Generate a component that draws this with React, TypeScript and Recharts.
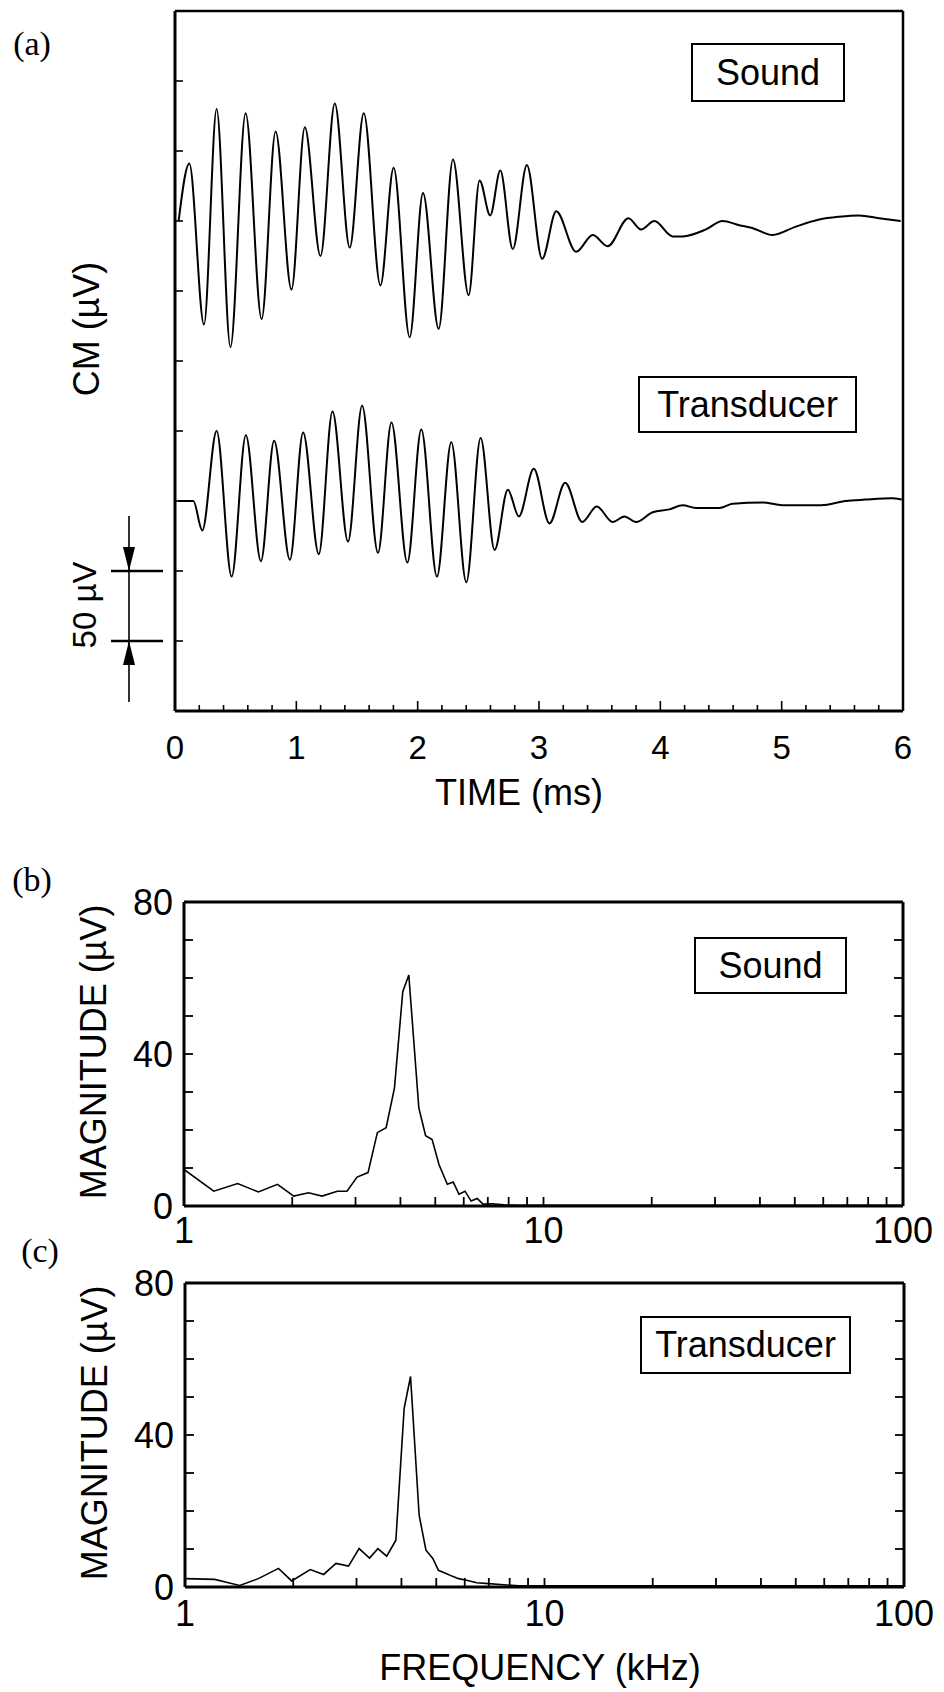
import React from "react";
import { LineChart, Line, XAxis, YAxis } from "recharts";

// ─── Data ─────────────────────────────────────────────────────────────

// (a) cochlear microphonic, time in ms, trace value in µV (offset per trace)
const soundTime = [
  0.03, 0.118, 0.239, 0.343, 0.457, 0.582, 0.714, 0.829, 0.96, 1.07, 1.199, 1.317,
  1.44, 1.556, 1.693, 1.802, 1.934, 2.044, 2.173, 2.291, 2.42, 2.51, 2.598, 2.681,
  2.784, 2.9, 3.026, 3.142, 3.306, 3.443, 3.566, 3.737, 3.841, 3.951, 4.101, 4.184,
  4.376, 4.513, 4.65, 4.757, 4.924, 5.117, 5.309, 5.473, 5.638, 5.802, 5.981,
];
const soundCm = [
  350, 391, 276, 430, 260, 427, 280, 414, 301, 417, 325, 434,
  331, 427, 304, 388, 267, 370, 273, 394, 297, 379, 354, 386,
  330, 390, 323, 357, 328, 340, 332, 352, 344, 350, 339, 339,
  344, 350, 347, 345, 340, 346, 351, 353, 354, 352, 350,
];

const transducerTime = [
  0.027, 0.151, 0.225, 0.343, 0.467, 0.584, 0.708, 0.817, 0.947, 1.056, 1.185, 1.298,
  1.426, 1.542, 1.673, 1.784, 1.915, 2.03, 2.159, 2.277, 2.401, 2.519, 2.634, 2.743,
  2.834, 2.957, 3.086, 3.216, 3.356, 3.476, 3.607, 3.704, 3.8, 3.937, 4.074, 4.184,
  4.294, 4.486, 4.595, 4.845, 5.004, 5.325, 5.527, 5.687, 5.908, 5.99,
];
const transducerCm = [
  150, 150, 129, 200, 96, 197, 107, 193, 108, 199, 112, 214,
  121, 218, 113, 206, 106, 201, 96, 192, 92, 195, 115, 158,
  139, 173, 134, 163, 135, 146, 135, 139, 135, 142, 144, 147,
  145, 145, 148, 149, 147, 147, 150, 151, 152, 151,
];

// (b) spectrum of the sound response, frequency in kHz, magnitude in µV
const soundFreq = [
  1.0, 1.21, 1.41, 1.61, 1.82, 2.02, 2.22, 2.42, 2.67, 2.84, 3.03, 3.25, 3.45, 3.65,
  3.85, 4.06, 4.22, 4.5, 4.7, 4.9, 5.12, 5.4, 5.61, 5.82, 6.05, 6.29, 6.54, 6.79,
  7.19, 7.77, 8.5, 10, 20, 50, 100,
];
const soundMag = [
  9.6, 3.9, 5.9, 3.7, 5.7, 2.6, 3.5, 2.6, 3.9, 3.9, 7.6, 8.8, 19.3, 20.6,
  31.1, 56.4, 60.8, 25.8, 18.5, 17.5, 10.9, 5.7, 6.3, 3.1, 3.9, 1.3, 2.0, 0.5,
  0.6, 0.3, 0.2, 0.2, 0.2, 0.2, 0.2,
];

// (c) spectrum of the transducer response
const transducerFreq = [
  1.0, 1.21, 1.32, 1.42, 1.6, 1.82, 1.98, 2.23, 2.43, 2.63, 2.85, 3.05, 3.26, 3.44,
  3.64, 3.86, 4.07, 4.24, 4.48, 4.68, 4.89, 5.07, 5.34, 5.55, 5.77, 6.07, 6.48, 6.99,
  7.7, 8.5, 10, 20, 50, 100,
];
const transducerMag = [
  2.2, 2.0, 1.1, 0.4, 2.2, 4.9, 1.6, 4.6, 3.3, 6.2, 5.5, 10.1, 7.6, 10.1,
  8.1, 12.3, 47.0, 55.4, 18.9, 9.7, 7.5, 4.4, 3.5, 2.8, 2.2, 1.8, 1.1, 0.9,
  0.6, 0.3, 0.3, 0.3, 0.3, 0.3,
];

// ─── Axis ticks ───────────────────────────────────────────────────────
const timeTicks = [
  0, 0.2, 0.4, 0.6, 0.8, 1, 1.2, 1.4, 1.6, 1.8, 2, 2.2, 2.4, 2.6, 2.8, 3,
  3.2, 3.4, 3.6, 3.8, 4, 4.2, 4.4, 4.6, 4.8, 5, 5.2, 5.4, 5.6, 5.8, 6,
];
const cmTicks = [0, 50, 100, 150, 200, 250, 300, 350, 400, 450, 500];
const freqTicks = [1, 2, 3, 4, 5, 6, 7, 8, 9, 10, 20, 30, 40, 50, 60, 70, 80, 90, 100];
const magTicks = [0, 10, 20, 30, 40, 50, 60, 70, 80];
const freqLabels = [1, 10, 100];
const magLabels = [0, 40, 80];

const soundData = soundTime.map((t, i) => ({ t, v: soundCm[i] }));
const transducerData = transducerTime.map((t, i) => ({ t, v: transducerCm[i] }));
const soundSpec = soundFreq.map((f, i) => ({ f, m: soundMag[i] }));
const transducerSpec = transducerFreq.map((f, i) => ({ f, m: transducerMag[i] }));

// ─── Styling ──────────────────────────────────────────────────────────
const SANS = "'Liberation Sans', Arial, Helvetica, sans-serif";
const SERIF = "'Liberation Serif', 'Times New Roman', serif";
const INK = "#000";

// panel (a) plot box
const A = { top: 11, bottom: 711, left: 175, right: 903, max: 500 };
const aY = (v: number) => A.top + ((A.max - v) / A.max) * (A.bottom - A.top);

// ─── Tick renderers ───────────────────────────────────────────────────
function TimeTick({ x, y, payload }: any) {
  const v = payload.value;
  const major = Math.abs(v - Math.round(v)) < 1e-6;
  const edge = v === 0 || v === 6;
  return (
    <g>
      {!edge && <line x1={x} y1={y} x2={x} y2={y - (major ? 10 : 6)} stroke={INK} strokeWidth={1.6} />}
      {major && (
        <text x={x} y={y + 36} textAnchor="middle" dominantBaseline="central"
          fontFamily={SANS} fontSize={33} fill={INK}>
          {Math.round(v)}
        </text>
      )}
    </g>
  );
}

function CmTick({ x, y, payload }: any) {
  const v = payload.value;
  if (v === 0 || v === A.max) return <g />;
  return <line x1={x} y1={y} x2={x + 8} y2={y} stroke={INK} strokeWidth={1.6} />;
}

function NoTick() {
  return <g />;
}

function makeFreqTick(labelGap: number) {
  return function FreqTick({ x, y, payload }: any) {
    const v = payload.value;
    const show = freqLabels.includes(v);
    return (
      <g>
        {v !== 1 && v !== 100 && (
          <line x1={x} y1={y} x2={x} y2={y - 9} stroke={INK} strokeWidth={1.8} />
        )}
        {show && (
          <text x={x} y={y + labelGap} textAnchor="middle" dominantBaseline="central"
            fontFamily={SANS} fontSize={36} fill={INK}>
            {v}
          </text>
        )}
      </g>
    );
  };
}

function MagTickLeft({ x, y, payload }: any) {
  const v = payload.value;
  return (
    <g>
      {v !== 0 && v !== 80 && <line x1={x} y1={y} x2={x + 9} y2={y} stroke={INK} strokeWidth={1.8} />}
      {magLabels.includes(v) && (
        <text x={x - 11} y={y} textAnchor="end" dominantBaseline="central"
          fontFamily={SANS} fontSize={36} fill={INK}>
          {v}
        </text>
      )}
    </g>
  );
}

function MagTickRight({ x, y, payload }: any) {
  const v = payload.value;
  if (v === 0 || v === 80) return <g />;
  return <line x1={x} y1={y} x2={x - 9} y2={y} stroke={INK} strokeWidth={1.8} />;
}

// ─── Panels ───────────────────────────────────────────────────────────

function TimePanel() {
  const height = 830;
  return (
    <div style={{ position: "absolute", left: 0, top: 0 }}>
      <LineChart width={944} height={height}
        margin={{ top: A.top - 1, bottom: height - A.bottom - 1, left: A.left - 1, right: 944 - A.right - 1 }}>
        <XAxis dataKey="t" type="number" domain={[0, 6]} ticks={timeTicks} interval={0}
          height={1} tickSize={0} tickMargin={0} tickLine={false} tick={<TimeTick />}
          axisLine={{ stroke: INK, strokeWidth: 3 }} allowDataOverflow />
        <XAxis xAxisId="top" orientation="top" dataKey="t" type="number" domain={[0, 6]} ticks={timeTicks}
          interval={0} height={1} tickSize={0} tickMargin={0} tickLine={false} tick={<NoTick />}
          axisLine={{ stroke: INK, strokeWidth: 2.5 }} allowDataOverflow />
        <YAxis type="number" domain={[0, A.max]} ticks={cmTicks} interval={0} width={1}
          tickSize={0} tickMargin={0} tickLine={false} tick={<CmTick />}
          axisLine={{ stroke: INK, strokeWidth: 3 }} allowDataOverflow />
        <YAxis yAxisId="right" orientation="right" type="number" domain={[0, A.max]} ticks={cmTicks}
          interval={0} width={1} tickSize={0} tickMargin={0} tickLine={false} tick={<NoTick />}
          axisLine={{ stroke: INK, strokeWidth: 2.5 }} allowDataOverflow />
        <Line data={soundData} dataKey="v" type="monotone" stroke={INK} strokeWidth={2}
          dot={false} activeDot={false} isAnimationActive={false} />
        <Line data={transducerData} dataKey="v" type="monotone" stroke={INK} strokeWidth={2}
          dot={false} activeDot={false} isAnimationActive={false} />
      </LineChart>
    </div>
  );
}

function SpectrumPanel({ data, top, height, plotTop, plotBottom, left, right, labelGap }: {
  data: { f: number; m: number }[]; top: number; height: number; plotTop: number;
  plotBottom: number; left: number; right: number; labelGap: number;
}) {
  const FreqTick = makeFreqTick(labelGap);
  return (
    <div style={{ position: "absolute", left: 0, top }}>
      <LineChart width={944} height={height}
        margin={{ top: plotTop - top - 1, bottom: top + height - plotBottom - 1, left: left - 1, right: 944 - right - 1 }}>
        <XAxis dataKey="f" type="number" scale="log" domain={[1, 100]} ticks={freqTicks}
          interval={0} height={1} tickSize={0} tickMargin={0} tickLine={false}
          tick={<FreqTick />} axisLine={{ stroke: INK, strokeWidth: 3 }} allowDataOverflow />
        <XAxis xAxisId="top" orientation="top" dataKey="f" type="number" scale="log" domain={[1, 100]}
          ticks={freqTicks} interval={0} height={1} tickSize={0} tickMargin={0} tickLine={false}
          tick={<NoTick />} axisLine={{ stroke: INK, strokeWidth: 3 }} allowDataOverflow />
        <YAxis type="number" domain={[0, 80]} ticks={magTicks} interval={0} width={1}
          tickSize={0} tickMargin={0} tickLine={false} tick={<MagTickLeft />}
          axisLine={{ stroke: INK, strokeWidth: 3 }} allowDataOverflow />
        <YAxis yAxisId="right" orientation="right" type="number" domain={[0, 80]}
          ticks={magTicks} interval={0} width={1} tickSize={0} tickMargin={0} tickLine={false}
          tick={<MagTickRight />} axisLine={{ stroke: INK, strokeWidth: 3 }} allowDataOverflow />
        <Line data={data} dataKey="m" type="linear" stroke={INK} strokeWidth={1.6}
          dot={false} activeDot={false} isAnimationActive={false} />
      </LineChart>
    </div>
  );
}

function TagBox({ text, left, top, width, height }: {
  text: string; left: number; top: number; width: number; height: number;
}) {
  return (
    <div style={{
      position: "absolute", left, top, width, height, boxSizing: "border-box",
      border: "2px solid #000", display: "flex", alignItems: "center", justifyContent: "center",
      fontFamily: SANS, fontSize: 36, color: INK, background: "#fff",
    }}>
      {text}
    </div>
  );
}

function Overlay() {
  const y100 = aY(100);
  const y50 = aY(50);
  const barX = 129;
  const vText = (x: number, y: number, s: string, size: number) => (
    <text x={x} y={y} transform={`rotate(-90 ${x} ${y})`} textAnchor="middle"
      dominantBaseline="central" fontFamily={SANS} fontSize={size} fill={INK}>{s}</text>
  );
  return (
    <svg width={944} height={1692} style={{ position: "absolute", left: 0, top: 0, pointerEvents: "none" }}>
      <text x={32} y={43} textAnchor="middle" dominantBaseline="central" fontFamily={SERIF} fontSize={34}>(a)</text>
      <text x={32} y={879} textAnchor="middle" dominantBaseline="central" fontFamily={SERIF} fontSize={34}>(b)</text>
      <text x={40} y={1250} textAnchor="middle" dominantBaseline="central" fontFamily={SERIF} fontSize={34}>(c)</text>

      <text x={519} y={792} textAnchor="middle" dominantBaseline="central" fontFamily={SANS} fontSize={36}>TIME (ms)</text>
      <text x={540} y={1667} textAnchor="middle" dominantBaseline="central" fontFamily={SANS} fontSize={36}>FREQUENCY (kHz)</text>
      {vText(86, 329, "CM (\u00b5V)", 36)}
      {vText(93, 1052, "MAGNITUDE (\u00b5V)", 36)}
      {vText(94, 1433, "MAGNITUDE (\u00b5V)", 36)}
      {vText(84, 605, "50 \u00b5V", 33)}

      {/* 50 µV scale bar */}
      <line x1={111} y1={y100} x2={163} y2={y100} stroke={INK} strokeWidth={2.5} />
      <line x1={111} y1={y50} x2={163} y2={y50} stroke={INK} strokeWidth={2.5} />
      <line x1={barX} y1={y100 - 55} x2={barX} y2={y50 + 61} stroke={INK} strokeWidth={1.6} />
      <polygon points={`${barX - 6},${y100 - 24} ${barX + 6},${y100 - 24} ${barX},${y100}`} fill={INK} />
      <polygon points={`${barX - 6},${y50 + 24} ${barX + 6},${y50 + 24} ${barX},${y50}`} fill={INK} />
    </svg>
  );
}

export default function App() {
  return (
    <div style={{ position: "absolute", left: 0, top: 0, width: 944, height: 1692, background: "#fff" }}>
      <TimePanel />
      <SpectrumPanel data={soundSpec} top={880} height={380} plotTop={902} plotBottom={1206}
        left={184} right={903} labelGap={24} />
      <SpectrumPanel data={transducerSpec} top={1260} height={432} plotTop={1283} plotBottom={1587}
        left={185} right={904} labelGap={26} />
      <TagBox text="Sound" left={691} top={43} width={154} height={59} />
      <TagBox text="Transducer" left={638} top={376} width={219} height={57} />
      <TagBox text="Sound" left={694} top={937} width={153} height={57} />
      <TagBox text="Transducer" left={640} top={1316} width={211} height={58} />
      <Overlay />
    </div>
  );
}
